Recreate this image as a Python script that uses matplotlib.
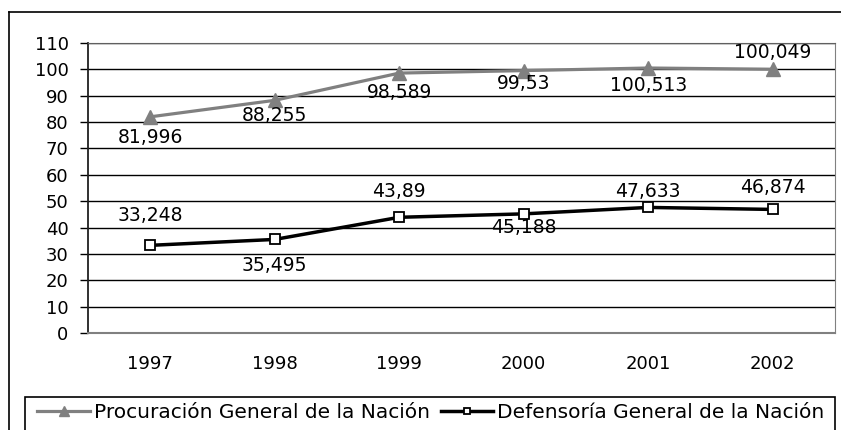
import matplotlib.pyplot as plt
from matplotlib.patches import Rectangle
from matplotlib.lines import Line2D

plt.rcParams['font.family'] = ['DejaVu Sans']

years = ['1997', '1998', '1999', '2000', '2001', '2002']
procuracion = [81.996, 88.255, 98.589, 99.53, 100.513, 100.049]
defensoria = [33.248, 35.495, 43.89, 45.188, 47.633, 46.874]
proc_labels = ['81,996', '88,255', '98,589', '99,53', '100,513', '100,049']
def_labels = ['33,248', '35,495', '43,89', '45,188', '47,633', '46,874']

# label offsets from the marker, in pixels (positive = above)
proc_off = [-21, -15, -19, -13, -17, 17]
def_off = [30, -26, 26, -14, 16, 22]

W, H = 841, 430
fig = plt.figure(figsize=(W / 100, H / 100), dpi=100)
ax = fig.add_axes([88 / W, 1 - 333 / H, 747 / W, 290 / H])

x = list(range(len(years)))
ax.plot(x, procuracion, color='#808080', lw=2.3, marker='^', ms=10,
        mfc='#808080', mec='#808080', label='Procuración General de la Nación', zorder=3)
ax.plot(x, defensoria, color='black', lw=2.5, marker='s', ms=7,
        mfc='white', mec='black', mew=1.3, label='Defensoría General de la Nación', zorder=3)

for xi, v, t, o in zip(x, procuracion, proc_labels, proc_off):
    ax.annotate(t, (xi, v), xytext=(0, o * 0.72), textcoords='offset points',
                ha='center', va='center', fontsize=13.5)
for xi, v, t, o in zip(x, defensoria, def_labels, def_off):
    ax.annotate(t, (xi, v), xytext=(0, o * 0.72), textcoords='offset points',
                ha='center', va='center', fontsize=13.5)

ax.set_xlim(-0.5, len(years) - 0.5)
ax.set_ylim(0, 110)
ax.set_yticks(range(0, 111, 10))
ax.set_xticks(x)
ax.set_xticklabels(years)
ax.tick_params(axis='y', labelsize=13, length=6, width=1, color='black', pad=8)
ax.tick_params(axis='x', labelsize=13, length=0, pad=16)
ax.yaxis.grid(True, color='black', lw=1)
ax.set_axisbelow(True)
ax.spines['top'].set_color('#606060')
ax.spines['right'].set_color('#808080')
ax.spines['bottom'].set_color('#808080')
ax.spines['bottom'].set_linewidth(1.5)
ax.spines['left'].set_color('#202020')
ax.spines['left'].set_linewidth(1.3)

# outer frame (top and left edges)
fig.add_artist(Line2D([9 / W, 1], [1 - 12 / H] * 2, color='black', lw=1.2))
fig.add_artist(Line2D([9 / W] * 2, [0, 1 - 12 / H], color='black', lw=1.2))

# legend box
fig.add_artist(Rectangle((25 / W, -0.05), 810 / W, 0.05 + 33 / H,
                         fill=False, edgecolor='black', lw=1.2))
fig.legend(loc='center', bbox_to_anchor=(431 / W, 17 / H), ncol=2, frameon=False,
           fontsize=14.5, handlelength=2.6, handletextpad=0.2, columnspacing=0.55,
           borderaxespad=0, borderpad=0, markerscale=0.7)

fig.savefig('out.png', dpi=100)
